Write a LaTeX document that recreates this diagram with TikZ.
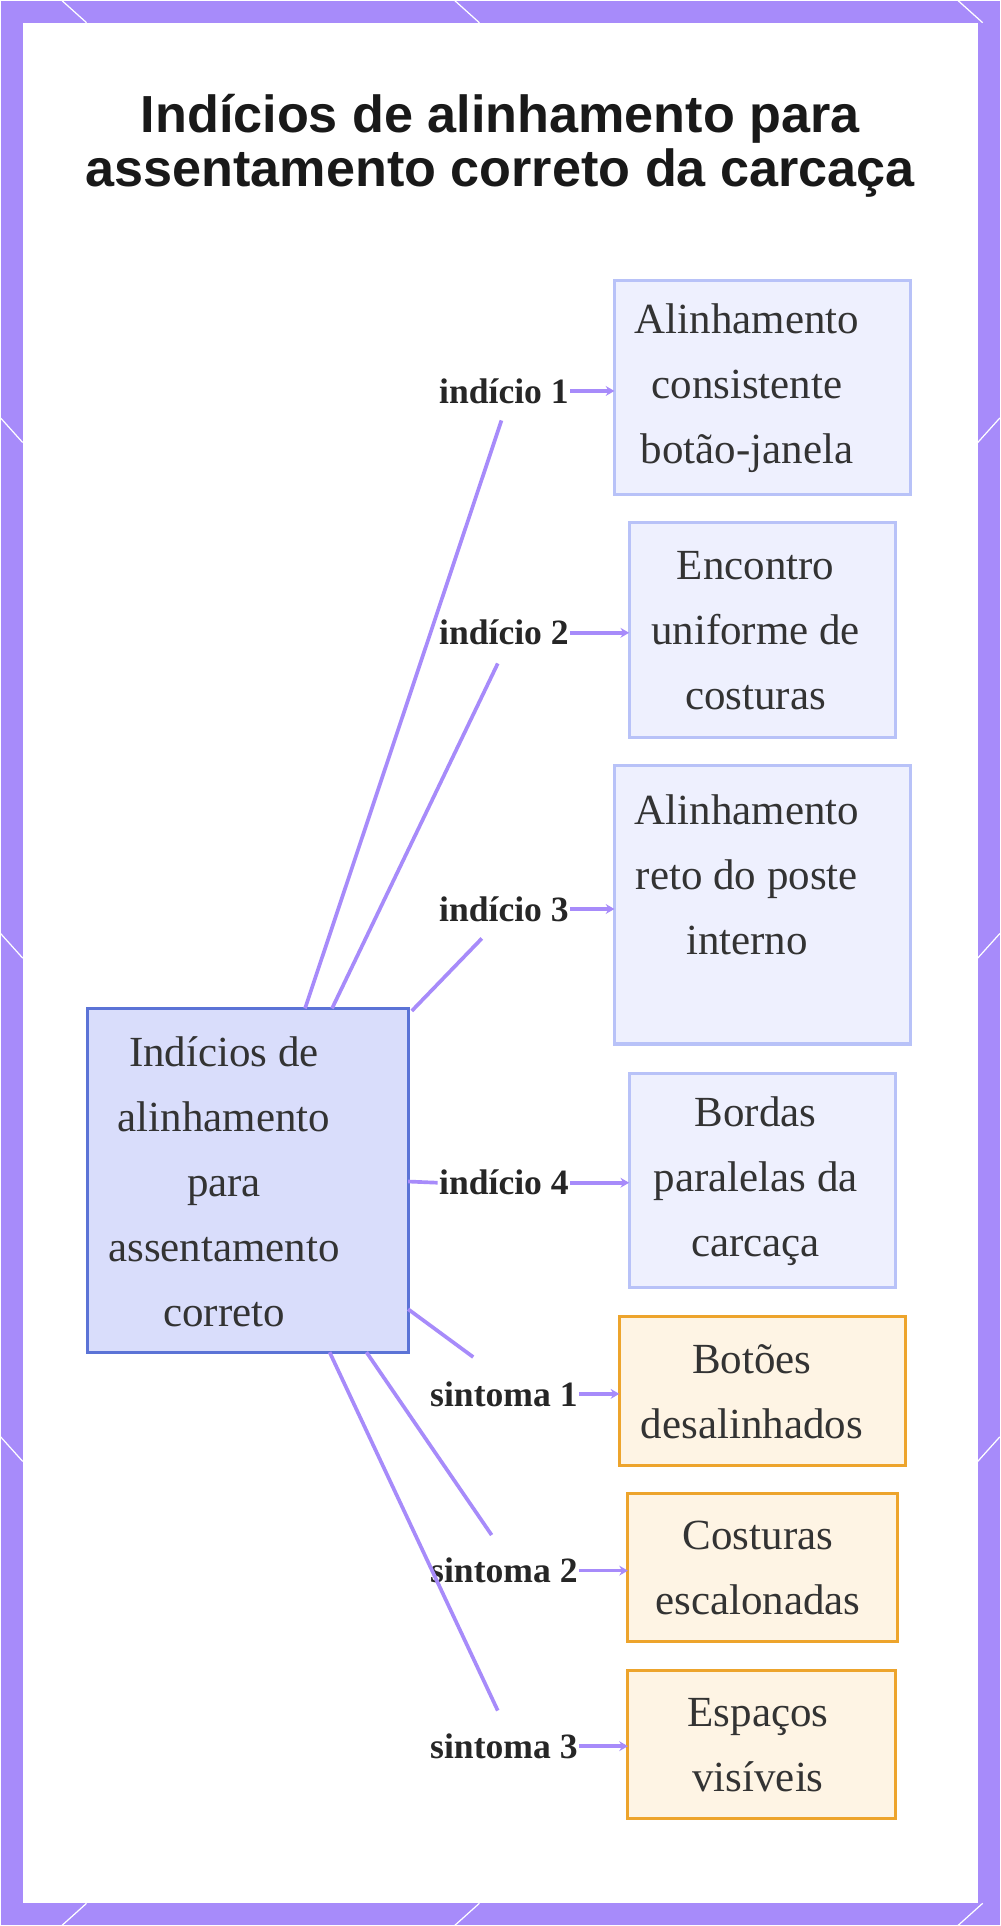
\documentclass[tikz,border=0pt]{standalone}
\usepackage{fontspec}
\setmainfont{Liberation Serif}
\newfontfamily\titlefont{Liberation Sans}
\usetikzlibrary{arrows.meta}
\definecolor{frame}{HTML}{A78BFA}
\definecolor{mainfill}{HTML}{D9DDFB}
\definecolor{maindraw}{HTML}{5B73D6}
\definecolor{bluefill}{HTML}{EEF0FE}
\definecolor{bluedraw}{HTML}{B8C2F8}
\definecolor{orfill}{HTML}{FEF4E4}
\definecolor{ordraw}{HTML}{EDA42C}
\definecolor{txt}{HTML}{333333}
\tikzset{
 box/.style={draw=bluedraw,fill=bluefill,line width=2.5pt},
 obox/.style={draw=ordraw,fill=orfill,line width=2.5pt},
 btxt/.style={text=txt,align=center,font=\fontsize{35}{53}\selectfont},
 lab/.style={text=black!85,font=\fontsize{29}{32}\selectfont\bfseries,inner sep=1pt},
 conn/.style={draw=frame,line width=3pt},
 arr/.style={draw=frame,line width=3pt,-{Stealth[length=7pt,width=8pt]}}
}
\begin{document}
\begin{tikzpicture}[x=1pt,y=-1pt]
\fill[frame] (0,0) rectangle (814,1568);
\fill[white] (18,18) rectangle (796,1550);
\foreach \x in {70,390,800} {\draw[white,line width=1pt] (\x-20,0) -- (\x,18); \draw[white,line width=1pt] (\x-20,1568) -- (\x,1550);}
\foreach \y in {340,760,1170} {\draw[white,line width=1pt] (0,\y) -- (18,\y+20); \draw[white,line width=1pt] (796,\y+20) -- (814,\y);}
\node[font=\titlefont\bfseries\fontsize{42.5}{44}\selectfont,align=center,text=black!90] (title) at (407,118) {Indícios de alinhamento para\\assentamento correto da carcaça};
% boxes
\path[draw=maindraw,fill=mainfill,line width=2.5pt] (71,821) rectangle (332,1101);
\node[btxt] (main) at (182,962) {Indícios de\\alinhamento\\para\\assentamento\\correto};
\draw[box] (500,228) rectangle (741,402); \node[btxt] (b1) at (608,316) {Alinhamento\\consistente\\botão-janela};
\draw[box] (512,425) rectangle (729,600); \node[btxt] (b2) at (615,513) {Encontro\\uniforme de\\costuras};
\draw[box] (500,623) rectangle (741,850); \node[btxt] (b3) at (608,712) {Alinhamento\\reto do poste\\interno};
\draw[box] (512,874) rectangle (729,1048); \node[btxt] (b4) at (615,962) {Bordas\\paralelas da\\carcaça};
\draw[obox] (504,1072) rectangle (737,1193); \node[btxt] (b5) at (612,1133) {Botões\\desalinhados};
\draw[obox] (511,1216) rectangle (731,1337); \node[btxt] (b6) at (617,1277) {Costuras\\escalonadas};
\draw[obox] (511,1360) rectangle (729,1481); \node[btxt] (b7) at (617,1421) {Espaços\\visíveis};
% labels
\node[lab] (l1) at (410,318) {indício 1};
\node[lab] (l2) at (410,515) {indício 2};
\node[lab] (l3) at (410,740) {indício 3};
\node[lab] (l4) at (410,963) {indício 4};
\node[lab] (l5) at (410,1135) {sintoma 1};
\node[lab] (l6) at (410,1279) {sintoma 2};
\node[lab] (l7) at (410,1422) {sintoma 3};
% connectors
\draw[conn] (248,821) -- (408,342);
\draw[conn] (270,821) -- (405,540);
\draw[conn] (335,823) -- (392,764);
\draw[conn] (332,962) -- (l4.west);
\draw[conn] (332,1066) -- (385,1105);
\draw[conn] (298,1101) -- (400,1250);
\draw[conn] (268,1101) -- (405,1393);
\coordinate (e1) at (500,0); \coordinate (e2) at (512,0); \coordinate (e5) at (504,0); \coordinate (e6) at (511,0);
\draw[arr] (l1.east) -- (l1.east -| e1);
\draw[arr] (l2.east) -- (l2.east -| e2);
\draw[arr] (l3.east) -- (l3.east -| e1);
\draw[arr] (l4.east) -- (l4.east -| e2);
\draw[arr] (l5.east) -- (l5.east -| e5);
\draw[arr] (l6.east) -- (l6.east -| e6);
\draw[arr] (l7.east) -- (l7.east -| e6);
\end{tikzpicture}
\end{document}
